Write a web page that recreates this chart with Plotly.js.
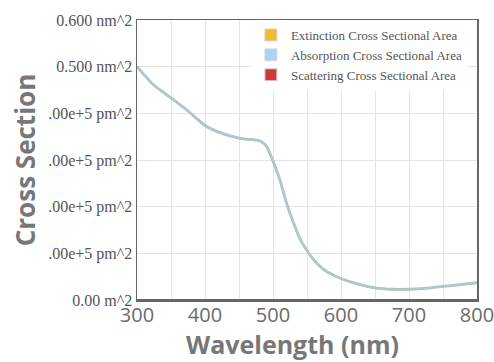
<!DOCTYPE html>
<html>
<head>
<meta charset="utf-8">
<script src="https://cdn.plot.ly/plotly-3.0.1.min.js"></script>
<style>html,body{margin:0;padding:0;background:#fff;}#chart{width:494px;height:362px;}</style>
</head>
<body>
<div id="chart"></div>
<script>
const wavelength = [300, 325, 350, 375, 400, 425, 450, 465, 478, 485, 491, 500, 510, 520, 530, 540, 550, 560, 570, 580, 600, 625, 650, 675, 700, 725, 750, 775, 800];
const absorption = [0.500, 0.460, 0.433, 0.405, 0.374, 0.357, 0.347, 0.344, 0.342, 0.337, 0.328, 0.298, 0.258, 0.207, 0.166, 0.130, 0.106, 0.086, 0.071, 0.060, 0.046, 0.034, 0.026, 0.023, 0.023, 0.025, 0.029, 0.033, 0.037];
const scattering = [0, 0, 0, 0, 0, 0, 0, 0, 0, 0, 0, 0, 0, 0, 0, 0, 0, 0, 0, 0, 0, 0, 0, 0, 0, 0, 0, 0, 0];
const extinction = [0.500, 0.460, 0.433, 0.405, 0.374, 0.357, 0.347, 0.344, 0.342, 0.337, 0.328, 0.298, 0.258, 0.207, 0.166, 0.130, 0.106, 0.086, 0.071, 0.060, 0.046, 0.034, 0.026, 0.023, 0.023, 0.025, 0.029, 0.033, 0.037];
const seriesNames = ["Extinction Cross Sectional Area", "Absorption Cross Sectional Area", "Scattering Cross Sectional Area"];
const seriesColors = ["#f0bc2e", "#a9d3f0", "#cc3a3a"];
const yTickVals = [0, 0.1, 0.2, 0.3, 0.4, 0.5, 0.6];
const yTickText = ["0.00 m^2", ".00e+5 pm^2", ".00e+5 pm^2", ".00e+5 pm^2", ".00e+5 pm^2", "0.500 nm^2", "0.600 nm^2"];
const xTickVals = [300, 400, 500, 600, 700, 800];
const xTitle = "Wavelength (nm)";
const yTitle = "Cross Section";

const values = [extinction, absorption, scattering];
const lineColors = ["#bdb99a", "#a6cbe0", "#cc3a3a"];
const lineWidths = [2.8, 1.8, 2.2];
const traces = [];
values.forEach((v, i) => {
  traces.push({
    type: "scatter", mode: "lines", x: wavelength, y: v,
    name: seriesNames[i], legendgroup: "g" + i, showlegend: false,
    line: {color: lineColors[i], width: lineWidths[i], shape: "spline", smoothing: 0.6},
    hoverinfo: "skip"
  });
});
seriesNames.forEach((n, i) => {
  traces.push({
    type: "bar", x: [null], y: [null], name: n, legendgroup: "g" + i,
    marker: {color: seriesColors[i], line: {color: "#d8d8d8", width: 1}}
  });
});

const layout = {
  width: 494, height: 362,
  margin: {l: 137, r: 17, t: 20, b: 62},
  paper_bgcolor: "#ffffff", plot_bgcolor: "#ffffff",
  showlegend: true,
  legend: {
    x: 0.335, y: 1.0, xanchor: "left", yanchor: "top",
    bgcolor: "#ffffff", borderwidth: 0,
    font: {family: "Liberation Serif, serif", size: 13, color: "#555555"},
    tracegroupgap: 0, itemwidth: 30, traceorder: "normal"
  },
  xaxis: {
    range: [300, 800], tickvals: xTickVals, ticks: "",
    showgrid: true, gridcolor: "#e4e4e4", gridwidth: 1,
    minor: {dtick: 50, tick0: 300, showgrid: true, gridcolor: "#e4e4e4", gridwidth: 1},
    showline: true, mirror: true, linecolor: "#666666", linewidth: 1.5,
    zeroline: false, ticklabeloverflow: "allow",
    tickfont: {family: "Open Sans, sans-serif", size: 20, color: "#6a6a6a"},
    ticklabelstandoff: -4,
    automargin: false, fixedrange: true
  },
  yaxis: {
    range: [0, 0.6], tickvals: yTickVals, ticktext: yTickText, ticks: "",
    showgrid: true, gridcolor: "#e4e4e4", gridwidth: 1,
    showline: true, mirror: true, linecolor: "#666666", linewidth: 1.5,
    zeroline: false, ticklabeloverflow: "allow",
    tickfont: {family: "Liberation Serif, serif", size: 16, color: "#555555"},
    title: {text: yTitle, standoff: 5, font: {family: "Open Sans, sans-serif", size: 26, color: "#777777", weight: 700}},
    automargin: false, fixedrange: true
  },
  annotations: [{
    text: xTitle, xref: "paper", yref: "paper", x: 0.456, y: -0.222,
    xanchor: "center", yanchor: "bottom", showarrow: false, borderpad: 0,
    font: {family: "Open Sans, sans-serif", size: 25, color: "#777777", weight: 700}
  }],
  barmode: "overlay"
};

Plotly.newPlot("chart", traces, layout, {displayModeBar: false, staticPlot: true});
</script>
</body>
</html>
